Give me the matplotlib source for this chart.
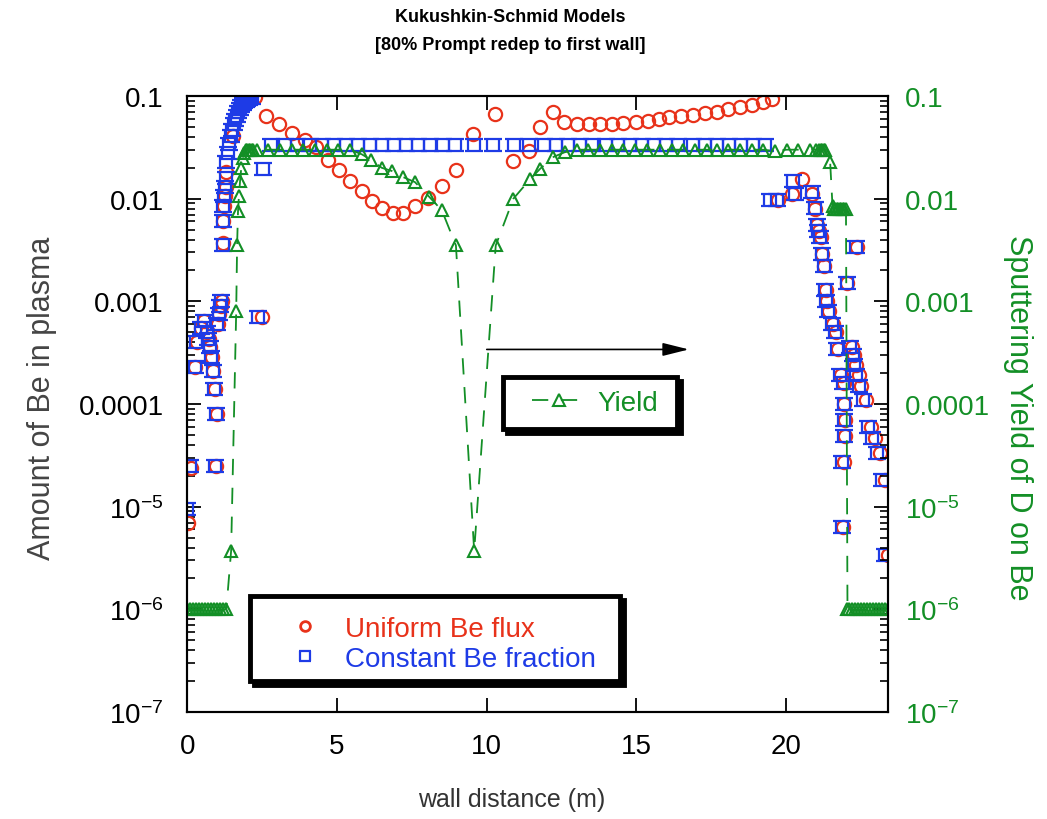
import numpy as np
import matplotlib
matplotlib.use('Agg')
import matplotlib.pyplot as plt
from matplotlib.path import Path
from matplotlib.lines import Line2D
from matplotlib.patches import Rectangle
from matplotlib.ticker import FixedLocator, FixedFormatter, LogLocator, NullFormatter

plt.rcParams['font.family'] = ['Liberation Sans', 'DejaVu Sans']
plt.rcParams['mathtext.fontset'] = 'custom'
plt.rcParams['mathtext.rm'] = 'Liberation Sans'
plt.rcParams['mathtext.it'] = 'Liberation Sans:italic'
plt.rcParams['mathtext.bf'] = 'Liberation Sans:bold'

# ---- datos ----
# Uniform Be flux (circulos rojos)
flux_x = [0.03, 0.12, 0.27, 0.32, 0.47, 0.57, 0.67, 0.72, 0.77, 0.82, 0.87, 0.92, 0.95, 0.99,
          1.02, 1.07, 1.12, 1.14, 1.18, 1.2, 1.22, 1.25, 1.28, 1.3, 1.53, 2.25, 2.5,
          2.62, 3.05, 3.5, 3.92, 4.3, 4.7, 5.08, 5.43, 5.82, 6.16, 6.49, 6.88, 7.21, 7.6,
          8.05, 8.5, 8.97, 9.55, 10.28, 10.87, 11.42, 11.78, 12.2, 12.58, 13.0, 13.41,
          13.79, 14.18, 14.56, 14.99, 15.4, 15.75, 16.1, 16.5, 16.9, 17.3, 17.7, 18.07,
          18.46, 18.85, 19.24, 19.52, 19.74, 20.2, 20.52, 20.87, 20.97, 21.04, 21.1,
          21.15, 21.21, 21.27, 21.32, 21.35, 21.44, 21.56, 21.67, 21.73, 21.84, 21.95,
          21.95, 21.96, 21.96, 21.92, 21.9, 22.05, 22.38, 22.2, 22.28, 22.34, 22.42,
          22.5, 22.66, 22.85, 22.96, 23.13, 23.3, 23.42]
flux_y = [7e-6, 2.4e-5, 2.3e-4, 4e-4, 5.5e-4, 6.5e-4, 5e-4, 4.3e-4, 3.6e-4, 2.9e-4, 2.1e-4,
          1.4e-4, 2.5e-5, 8e-5, 6e-4, 7.5e-4, 9e-4, 1e-3, 0.0037, 0.006, 0.0085, 0.0105,
          0.013, 0.018, 0.041, 0.097, 7e-4,
          0.064, 0.053, 0.044, 0.037, 0.032, 0.024, 0.019, 0.015, 0.0118, 0.0094, 0.0081,
          0.0073, 0.0073, 0.0085, 0.0102, 0.0134, 0.019, 0.0426, 0.067, 0.0232, 0.0294,
          0.05, 0.0695, 0.0555, 0.0534, 0.053, 0.053, 0.053, 0.054, 0.056, 0.057, 0.06,
          0.062, 0.064, 0.066, 0.068, 0.07, 0.074, 0.078, 0.082, 0.087, 0.093,
          0.0096, 0.011, 0.0155, 0.0112, 0.008, 0.0055, 0.0048, 0.0042, 0.0029, 0.0022,
          0.0013, 0.001, 8e-4, 6e-4, 5e-4, 3.4e-4, 1.9e-4, 1.6e-4, 1e-4, 7e-5, 4.9e-5,
          2.7e-5, 6.4e-6, 0.0015, 0.0034, 3.6e-4, 3e-4, 2.4e-4, 1.9e-4, 1.5e-4, 1.1e-4,
          6e-5, 4.7e-5, 3.3e-5, 1.8e-5, 3.4e-6]

# Constant Be fraction (cuadros azules)
frac_x = [0.0, 0.1, 0.25, 0.3, 0.45, 0.55, 0.65, 0.7, 0.75, 0.8, 0.85, 0.9, 0.92, 0.97,
          1.0, 1.05, 1.1, 1.12, 1.18, 1.2, 1.2, 1.22, 1.25, 1.28, 1.3, 1.35, 1.4, 1.45,
          1.5, 1.55, 1.6, 1.65, 1.7, 1.75, 1.8, 1.85, 1.9, 1.95, 2.0, 2.05, 2.1, 2.15,
          2.37, 2.51,
          2.8, 3.27, 3.66, 4.1, 4.5, 4.9, 5.3, 5.7, 6.1, 6.5, 6.9, 7.3, 7.7, 8.1, 8.55,
          8.95, 9.56, 10.2, 10.9, 11.4, 11.9, 12.3, 12.7, 13.1, 13.5, 14.0, 14.4, 14.8,
          15.2, 15.6, 16.0, 16.4, 16.9, 17.3, 17.7, 18.1, 18.5, 18.9, 19.3,
          19.45, 19.7, 20.24, 20.3, 20.85, 20.95, 21.02, 21.08, 21.13, 21.19, 21.25,
          21.3, 21.33, 21.41, 21.53, 21.64, 21.69, 21.8, 21.9, 21.92, 21.92, 21.92,
          21.86, 21.86, 22.03, 22.35, 22.15, 22.22, 22.28, 22.35, 22.42, 22.58, 22.75,
          22.86, 23.03, 23.2, 23.31]
frac_y = [9.5e-6, 2.5e-5, 2.3e-4, 4e-4, 5.5e-4, 6.5e-4, 5e-4, 4.3e-4, 3.6e-4, 2.9e-4,
          2.1e-4, 1.4e-4, 2.5e-5, 8e-5, 6e-4, 7.5e-4, 9e-4, 1e-3, 0.0035, 0.006, 0.0085,
          0.0105, 0.013, 0.016, 0.023, 0.028, 0.034, 0.041, 0.047, 0.053, 0.058, 0.064,
          0.07, 0.075, 0.08, 0.084, 0.087, 0.09, 0.092, 0.094, 0.095, 0.096,
          7e-4, 0.0195,
          0.033, 0.033, 0.033, 0.033, 0.033, 0.033, 0.033, 0.033, 0.033, 0.033, 0.033,
          0.033, 0.033, 0.033, 0.033, 0.033, 0.033, 0.033, 0.033, 0.033, 0.033, 0.033,
          0.033, 0.033, 0.033, 0.033, 0.033, 0.033, 0.033, 0.033, 0.033, 0.033, 0.033,
          0.033, 0.033, 0.033, 0.033, 0.033, 0.033,
          0.0098, 0.0098, 0.015, 0.011, 0.0115, 0.0082, 0.0055, 0.0048, 0.0042, 0.0029,
          0.0022, 0.0013, 0.001, 8e-4, 6e-4, 5e-4, 3.4e-4, 1.9e-4, 1.6e-4, 1e-4, 7e-5,
          4.9e-5, 2.7e-5, 6.4e-6, 0.0015, 0.0034, 3.6e-4, 3e-4, 2.4e-4, 1.9e-4, 1.5e-4,
          1.1e-4, 6e-5, 4.7e-5, 3.3e-5, 1.8e-5, 3.4e-6]

# Yield (triangulos verdes, eje derecho)
yield_x = [0.0, 0.1, 0.2, 0.3, 0.4, 0.5, 0.6, 0.7, 0.8, 0.9, 1.0, 1.1, 1.2, 1.3,
           1.46, 1.63, 1.66, 1.69, 1.72, 1.76, 1.8, 1.85, 1.9, 1.95, 2.0, 2.05, 2.1,
           2.15, 2.2, 2.32, 2.7, 3.09, 3.48, 3.87, 4.26, 4.65, 5.04, 5.43,
           5.83, 6.12, 6.49, 6.83, 7.19, 7.6, 8.08, 8.5, 8.97, 9.58, 10.3, 10.89, 11.45,
           11.78, 12.2, 12.6, 13.0, 13.39, 13.78, 14.17, 14.56, 14.95, 15.35, 15.79,
           16.18, 16.57, 16.96, 17.35, 17.68, 18.07, 18.46, 18.85, 19.24, 19.63, 20.02,
           20.41, 20.8, 21.0, 21.1, 21.15, 21.2, 21.25, 21.3, 21.47, 21.55, 21.6, 21.65,
           21.7, 21.75, 21.8, 21.85, 21.9, 21.95, 22.0, 22.05, 22.1, 22.2, 22.3, 22.4,
           22.5, 22.6, 22.7, 22.8, 22.9, 23.0, 23.1, 23.2, 23.3, 23.4]
yield_y = [1e-6, 1e-6, 1e-6, 1e-6, 1e-6, 1e-6, 1e-6, 1e-6, 1e-6, 1e-6, 1e-6, 1e-6, 1e-6, 1e-6,
           3.7e-6, 8e-4, 0.0035, 0.0075, 0.0105, 0.015, 0.02, 0.025, 0.028, 0.03, 0.03,
           0.03, 0.03, 0.03, 0.03, 0.03, 0.03, 0.03, 0.03, 0.03, 0.03, 0.03, 0.03, 0.03,
           0.027, 0.024, 0.02, 0.0186, 0.0163, 0.0145, 0.0104, 0.0077, 0.0035, 3.7e-6,
           0.0035, 0.01, 0.0155, 0.0195, 0.0253, 0.0283, 0.03, 0.03, 0.03, 0.03, 0.03,
           0.03, 0.03, 0.03, 0.03, 0.03, 0.03, 0.03, 0.03, 0.03, 0.03, 0.03, 0.03, 0.029,
           0.03, 0.03, 0.03, 0.03, 0.03, 0.03, 0.03, 0.03, 0.03, 0.023, 0.0085, 0.008,
           0.008, 0.008, 0.008, 0.008, 0.008, 0.008, 0.008, 0.008, 1e-6, 1e-6, 1e-6, 1e-6,
           1e-6, 1e-6, 1e-6, 1e-6, 1e-6, 1e-6, 1e-6, 1e-6, 1e-6, 1e-6, 1e-6]

decades = [1e-7, 1e-6, 1e-5, 1e-4, 1e-3, 1e-2, 1e-1]
dec_labels = ['10$^{-7}$', '10$^{-6}$', '10$^{-5}$', '0.0001', '0.001', '0.01', '0.1']
x_ticks = [0, 5, 10, 15, 20]

# flecha que apunta al eje derecho
arrow_start = (10.0, 3.4e-4)
arrow_end = (16.75, 3.4e-4)

red = '#e8321a'
blue = '#1e3be6'
green = '#138f26'

# marcador azul: cuadro con lineas horizontales salidas
box_marker = Path([(-1.35, 1), (1.35, 1), (-1.35, -1), (1.35, -1),
                   (-1, 1), (-1, -1), (1, 1), (1, -1)],
                  [Path.MOVETO, Path.LINETO, Path.MOVETO, Path.LINETO,
                   Path.MOVETO, Path.LINETO, Path.MOVETO, Path.LINETO])

fig = plt.figure(figsize=(10.47, 8.2), dpi=100)
ax = fig.add_axes([0.179, 0.1305, 0.6696, 0.7512])
ax2 = ax.twinx()

ax.plot(flux_x, flux_y, ls='none', marker='o', ms=9.5, mfc='none', mec=red, mew=1.6)
ax.plot(frac_x, frac_y, ls='none', marker=box_marker, ms=12.5, mfc='none', mec=blue, mew=1.6)
ax2.plot(yield_x, yield_y, ls=(0, (9, 7)), color=green, lw=1.3,
         marker='^', ms=9, mfc='none', mec=green, mew=1.5)

for a, col in [(ax, 'black'), (ax2, green)]:
    a.set_yscale('log')
    a.set_ylim(1e-7, 0.1)
    a.yaxis.set_major_locator(FixedLocator(decades))
    a.yaxis.set_major_formatter(FixedFormatter(dec_labels))
    a.yaxis.set_minor_locator(LogLocator(base=10, subs=np.arange(2, 10) * 1.0, numticks=20))
    a.yaxis.set_minor_formatter(NullFormatter())
    for s in a.spines.values():
        s.set_linewidth(1.5)

ax.set_xlim(0, 23.42)
ax.set_xticks(x_ticks)
ax.tick_params(axis='x', which='major', direction='in', length=10, width=1.3,
               top=True, labelsize=20, pad=15)
ax.tick_params(axis='y', which='major', direction='in', length=10, width=1.3,
               right=False, labelsize=20, pad=17)
ax.tick_params(axis='y', which='minor', direction='in', length=6, width=1.2, right=False)
ax2.tick_params(axis='y', which='major', direction='in', length=10, width=1.3,
                labelsize=20, pad=12, labelcolor=green)
ax2.tick_params(axis='y', which='minor', direction='in', length=6, width=1.2)

fig.text(42 / 1047, 1 - 398 / 820, 'Amount of Be in plasma', rotation=90, ha='center',
         va='center', fontsize=22, color='#444444')
fig.text(1018 / 1047, 1 - 418 / 820, 'Sputtering Yield of D on Be', rotation=270,
         ha='center', va='center', fontsize=22, color=green)
fig.text(0.489, 1 - 800 / 820, 'wall distance (m)', ha='center', va='center',
         fontsize=18, color='#333333')
fig.text(0.487, 1 - 18 / 820, 'Kukushkin-Schmid Models', ha='center', va='center',
         fontsize=13, fontweight='bold')
fig.text(0.487, 1 - 46 / 820, '[80% Prompt redep to first wall]', ha='center',
         va='center', fontsize=13, fontweight='bold')

ax2.annotate('', xy=arrow_end, xytext=arrow_start,
             arrowprops=dict(arrowstyle='-|>,head_length=0.8,head_width=0.2',
                             color='black', lw=1.2, mutation_scale=20,
                             shrinkA=0, shrinkB=0))

# cajas de leyenda con sombra
def caja(x0, y0, w, h):
    dx, dy = 4 / 701, -4 / 616
    ax2.add_patch(Rectangle((x0 + dx, y0 + dy), w, h, transform=ax2.transAxes,
                            facecolor='black', edgecolor='black', lw=3.5,
                            zorder=20, clip_on=False))
    ax2.add_patch(Rectangle((x0, y0), w, h, transform=ax2.transAxes,
                            facecolor='white', edgecolor='black', lw=3.5,
                            zorder=21, clip_on=False))

caja(0.089, 0.050, 0.528, 0.138)
caja(0.4502, 0.4594, 0.2482, 0.0844)

h1 = Line2D([], [], ls='none', marker='o', ms=7, mfc='none', mec=red, mew=2)
h2 = Line2D([], [], ls='none', marker=box_marker, ms=9, mfc='none', mec=blue, mew=1.6)
leg1 = ax2.legend([h1, h2], ['Uniform Be flux', 'Constant Be fraction'],
                  loc='center left', bbox_to_anchor=(0.148, 0.111), frameon=False,
                  borderpad=0, borderaxespad=0, handlelength=1.0, handletextpad=0.94,
                  labelspacing=0.15, fontsize=20, labelcolor=[red, blue])
leg1.set_zorder(30)
ax2.add_artist(leg1)

h3 = Line2D([], [], ls=(0, (9, 7)), color=green, lw=1.3, marker='^', ms=8,
            mfc='none', mec=green, mew=1.5)
leg2 = ax2.legend([h3], ['Yield'], loc='center left', bbox_to_anchor=(0.4916, 0.5016),
                  frameon=False, borderpad=0, borderaxespad=0, handlelength=1.95,
                  handletextpad=0.4, fontsize=20, labelcolor=[green])
leg2.set_zorder(30)

plt.savefig('out.png', dpi=100)
